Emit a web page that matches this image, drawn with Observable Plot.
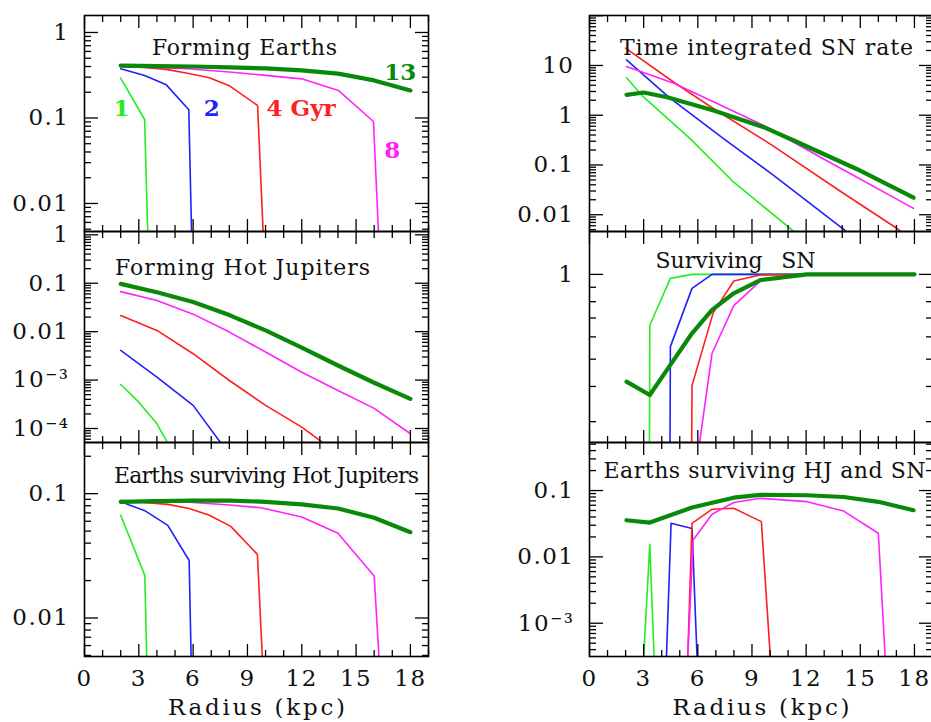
<!DOCTYPE html>
<html><head><meta charset="utf-8">
<script src="https://cdn.jsdelivr.net/npm/d3@7"></script>
<script src="https://cdn.jsdelivr.net/npm/@observablehq/plot@0.6"></script>
<style>
html,body{margin:0;padding:0;background:#fff;overflow:hidden;}
#chart{position:relative;width:931px;height:722px;overflow:hidden;}
#chart svg{position:absolute;overflow:visible;background:transparent;}
#chart svg g[aria-label$="tick label"] text{letter-spacing:1.5px;}
</style></head><body><div id="chart"></div><script>
// ---------------- DATA ----------------
const ages = ["1", "2", "4", "8", "13"]; // Gyr
const ageColors = ["#22ee22", "#1f1fff", "#ff1f1f", "#ff22ff", "#088a08"];
const ageWidths = [1.6, 1.6, 1.6, 1.6, 4.2];

const xTickLabels = [0, 3, 6, 9, 12, 15, 18];

// Forming Earths  [radius kpc, fraction]
const formEarth_1 = [[2,0.292],[3.32,0.096],[3.5,0.004]];
const formEarth_2 = [[2,0.376],[3.32,0.314],[4.52,0.244],[5.76,0.125],[5.92,0.004]];
const formEarth_4 = [[2,0.40],[3.32,0.39],[4.52,0.37],[5.68,0.334],[6.9,0.295],[8.03,0.236],[9.56,0.14],[9.88,0.004]];
const formEarth_8 = [[2,0.40],[4,0.39],[5.68,0.376],[8,0.345],[10,0.315],[12,0.287],[14.02,0.21],[15.96,0.091],[16.25,0.004]];
const formEarth_13 = [[2,0.41],[4,0.405],[6,0.40],[8,0.39],[10,0.38],[12,0.36],[14,0.33],[16,0.275],[18,0.21]];
const formEarthTicks = [1, 0.1, 0.01];

// Forming Hot Jupiters
const formHJ_1 = [[2,8.1e-4],[3,3.5e-4],[4,1.25e-4],[5,2.7e-5]];
const formHJ_2 = [[2,0.0041],[4,0.00115],[6,3.0e-4],[8,2.9e-5]];
const formHJ_4 = [[2,0.0216],[4,0.0106],[6,0.0035],[8,9.8e-4],[10,3.0e-4],[12,1.07e-4],[14,3e-5]];
const formHJ_8 = [[2,0.067],[4,0.044],[6,0.023],[8,0.0098],[10,0.0038],[12,0.00145],[14,6.1e-4],[16,2.6e-4],[18,7.8e-5]];
const formHJ_13 = [[2,0.097],[4,0.065],[6,0.041],[8,0.022],[10,0.0106],[12,0.0047],[14,0.002],[16,8.8e-4],[18,4.1e-4]];
const formHJTicks = [1, 0.1, 0.01, 1e-3, 1e-4];

// Earths surviving Hot Jupiters
const survHJ_1 = [[2,0.067],[3.33,0.022],[3.45,0.004]];
const survHJ_2 = [[2,0.086],[3.33,0.073],[4.6,0.0556],[5.78,0.029],[5.9,0.004]];
const survHJ_4 = [[2,0.088],[4.6,0.082],[5.78,0.076],[6.9,0.067],[8.08,0.0546],[9.55,0.0325],[9.85,0.004]];
const survHJ_8 = [[2,0.087],[4.6,0.087],[6,0.085],[8,0.081],[9.75,0.077],[12,0.065],[14,0.048],[16,0.0218],[16.3,0.004]];
const survHJ_13 = [[2,0.086],[4,0.087],[6,0.088],[8,0.088],[10,0.086],[12,0.082],[14,0.076],[16,0.064],[18,0.049]];
const survHJTicks = [0.1, 0.01];

// Time integrated SN rate
const snRate_1 = [[2.05,5.65],[3,2.3],[5.59,0.335],[7.99,0.045],[11.2,0.005],[12,0.0025]];
const snRate_2 = [[2.05,13],[4.39,2.3],[7.44,0.335],[10.2,0.062],[14.08,0.0051],[15,0.0025]];
const snRate_4 = [[2,22.3],[4.67,4.6],[6.88,1.35],[10,0.265],[14,0.028],[17.1,0.0051],[18,0.0028]];
const snRate_8 = [[2.05,9.5],[4.67,4.4],[7.07,1.72],[9.65,0.62],[12.97,0.132],[17.95,0.0134]];
const snRate_13 = [[2.05,2.57],[3,2.86],[4.3,2.3],[6.88,1.24],[9.65,0.575],[11.5,0.29],[14.8,0.083],[17.95,0.022]];
const snRateTicks = [10, 1, 0.1, 0.01];

// Surviving SN
const survSN_1 = [[3.32,0.24],[3.34,0.66],[4.48,0.968],[5.68,1.0],[18,1.0]];
const survSN_2 = [[4.46,0.24],[4.48,0.554],[5.68,0.892],[6.79,1.0],[18,1.0]];
const survSN_4 = [[5.66,0.24],[5.68,0.403],[6.85,0.73],[7.99,0.947],[9.46,0.995],[12.05,1.0],[18,1.0]];
const survSN_8 = [[6.05,0.24],[6.79,0.525],[7.99,0.775],[9.46,0.947],[12.05,1.0],[18,1.0]];
const survSN_13 = [[2.05,0.416],[3.34,0.373],[4.48,0.477],[5.68,0.618],[6.79,0.748],[7.99,0.857],[9.46,0.955],[12.05,1.0],[18,1.0]];
const survSNTicks = [1];

// Earths surviving HJ and SN
const survAll_1 = [[3.0,3e-4],[3.34,0.0155],[3.58,3e-4]];
const survAll_2 = [[4.26,3e-4],[4.52,0.0321],[5.68,0.0267],[5.96,3e-4]];
const survAll_4 = [[5.44,3e-4],[5.68,0.0321],[6.79,0.0523],[7.99,0.054],[9.52,0.034],[10.02,3e-4]];
const survAll_8 = [[5.44,3e-4],[5.74,0.018],[6.79,0.044],[7.99,0.066],[9.46,0.0765],[12.05,0.068],[14.08,0.049],[16,0.0227],[16.38,3e-4]];
const survAll_13 = [[2.05,0.0357],[3.34,0.0329],[5.68,0.0555],[7.99,0.078],[9.46,0.086],[12.05,0.085],[14.08,0.080],[16,0.0676],[17.95,0.0505]];
const survAllTicks = [0.1, 0.01, 1e-3];

// age annotations in the "Forming Earths" panel
const ageLabelText = ["1", "2", "4 Gyr", "8", "13"];
const ageLabelR = [2.05, 7.03, 11.96, 17.0, 17.44];
const ageLabelV = [0.129, 0.129, 0.129, 0.042, 0.34];

// ---------------- DRAWING ----------------
const FONT = "DejaVu Serif";
const chart = document.getElementById("chart");
// rendered widths of the reference's text strings (px)
const textWidths = {
  "Forming Earths": 185, "Forming Hot Jupiters": 255, "Earths surviving Hot Jupiters": 305,
  "Time integrated SN rate": 293, "Surviving": 107, "Earths surviving HJ and SN": 322,
  "Radius (kpc)": 177
};
const sup = {"-":"\u207B","0":"\u2070","1":"\u00B9","2":"\u00B2","3":"\u00B3","4":"\u2074","5":"\u2075","6":"\u2076","7":"\u2077","8":"\u2078","9":"\u2079"};
function fmtY(v) {
  if (v >= 0.01) return String(+v.toPrecision(6));
  const e = Math.round(Math.log10(v));
  return "10" + String(e).split("").map(c => sup[c]).join("");
}

function panel({left, frameTop, frameW, frameH, yDomain, yLabels, series, texts = [], bottomRow = false}) {
  const mT = 15, mB = 66, mL = 84, mR = 1;
  const W = mL + frameW + mR;
  const isMajor = v => Math.abs(Math.log10(v) - Math.round(Math.log10(v))) < 1e-6;
  const yAll = d3.scaleLog().domain(yDomain).ticks().filter(v => v >= yDomain[0] && v <= yDomain[1]);
  const yMaj = yAll.filter(isMajor), yMin = yAll.filter(v => !isMajor(v));
  const xAll = d3.range(0, 20);
  const xMaj = xAll.filter(v => v % 3 === 0), xMin = xAll.filter(v => v % 3 !== 0);
  const tk = {fill: "none", label: null, strokeWidth: 1.3};
  const marks = [
    ...series.map((s, i) => Plot.line(s, {x: d => d[0], y: d => d[1], stroke: ageColors[i], strokeWidth: ageWidths[i], clip: true, strokeLinejoin: "round"})),
    Plot.axisX(xMin, {...tk, anchor: "bottom", tickSize: 6, dy: -6}),
    Plot.axisX(xMaj, {...tk, anchor: "bottom", tickSize: 12, dy: -12}),
    Plot.axisX(xMin, {...tk, anchor: "top", tickSize: 6, dy: 6}),
    Plot.axisX(xMaj, {...tk, anchor: "top", tickSize: 12, dy: 12}),
    Plot.axisY(yMin, {...tk, anchor: "left", tickSize: 7, dx: 7}),
    Plot.axisY(yMaj, {...tk, anchor: "left", tickSize: 14, dx: 14}),
    Plot.axisY(yMin, {...tk, anchor: "right", tickSize: 7, dx: -7}),
    Plot.axisY(yMaj, {...tk, anchor: "right", tickSize: 14, dx: -14}),
    Plot.axisY(yLabels, {anchor: "left", tickSize: 0, tickPadding: 15, tickFormat: fmtY, label: null, fontSize: 23, fontFamily: FONT, fill: "#111"}),
    Plot.frame({stroke: "black", strokeWidth: 1.6}),
    ...texts
  ];
  if (bottomRow) {
    marks.push(Plot.axisX(xTickLabels, {anchor: "bottom", tickSize: 0, tickPadding: 13, label: null, fontSize: 23, fontFamily: FONT, fill: "#111"}));
    marks.push(Plot.text(["Radius (kpc)"], {text: d => d, frameAnchor: "bottom", dy: 58, fontSize: 23, fontFamily: FONT, fill: "#111"}));
  }
  const svg = Plot.plot({
    width: W, height: mT + frameH + mB,
    marginLeft: mL, marginRight: mR, marginTop: mT, marginBottom: mB,
    x: {domain: [0, 19]},
    y: {type: "log", domain: yDomain},
    style: {fontFamily: FONT, background: "transparent", overflow: "visible", maxWidth: "none"},
    marks
  });
  svg.querySelectorAll("text").forEach(t => {
    const w = textWidths[t.textContent];
    if (w && t.children.length === 0) { t.setAttribute("textLength", w); t.setAttribute("lengthAdjust", "spacing"); }
  });
  svg.style.left = left + "px";
  svg.style.top = (frameTop - mT) + "px";
  chart.append(svg);
}

function title(str, dx, dy, anchor = "middle", frameAnchor = "top-left") {
  return Plot.text([str], {text: d => d, frameAnchor, dx, dy, textAnchor: anchor, fontSize: 22, fontFamily: FONT, fill: "#111"});
}

const rows = [15, 231, 442];
const heights = [216, 211, 214];

panel({left: 0, frameTop: rows[0], frameW: 344, frameH: heights[0], yDomain: [0.0047, 1.58], yLabels: formEarthTicks,
  series: [formEarth_1, formEarth_2, formEarth_4, formEarth_8, formEarth_13],
  texts: [title("Forming Earths", 160, 24),
    ...ageLabelText.map((t, i) => Plot.text([t], {text: d => d, x: () => ageLabelR[i], y: () => ageLabelV[i], fill: ageColors[i], fontSize: 23, fontWeight: "bold", fontFamily: FONT}))]});

panel({left: 0, frameTop: rows[1], frameW: 344, frameH: heights[1], yDomain: [5.14e-5, 1.17], yLabels: formHJTicks,
  series: [formHJ_1, formHJ_2, formHJ_4, formHJ_8, formHJ_13],
  texts: [title("Forming Hot Jupiters", 158, 28)]});

panel({left: 0, frameTop: rows[2], frameW: 344, frameH: heights[2], yDomain: [0.0049, 0.258], yLabels: survHJTicks,
  series: [survHJ_1, survHJ_2, survHJ_4, survHJ_8, survHJ_13], bottomRow: true,
  texts: [title("Earths surviving Hot Jupiters", 182, 25)]});

panel({left: 505, frameTop: rows[0], frameW: 343, frameH: heights[0], yDomain: [0.0046, 101], yLabels: snRateTicks,
  series: [snRate_1, snRate_2, snRate_4, snRate_8, snRate_13],
  texts: [title("Time integrated SN rate", 177, 24)]});

panel({left: 505, frameTop: rows[1], frameW: 343, frameH: heights[1], yDomain: [0.253, 1.42], yLabels: survSNTicks,
  series: [survSN_1, survSN_2, survSN_4, survSN_8, survSN_13],
  texts: [title("Surviving", 66, 21, "start"), title("SN", 226, 21, "end")]});

panel({left: 505, frameTop: rows[2], frameW: 343, frameH: heights[2], yDomain: [3.15e-4, 0.53], yLabels: survAllTicks,
  series: [survAll_1, survAll_2, survAll_4, survAll_8, survAll_13], bottomRow: true,
  texts: [title("Earths surviving HJ and SN", 14, 20, "start")]});
</script></body></html>
